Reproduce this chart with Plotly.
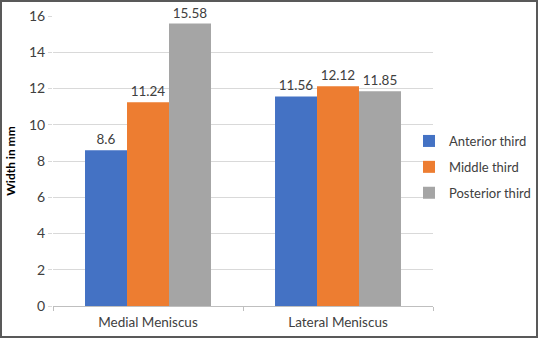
import plotly.graph_objects as go

categories = ["Medial Meniscus", "Lateral Meniscus"]
series_names = ["Anterior third", "Middle third", "Posterior third"]
anterior = [8.6, 11.56]
middle = [11.24, 12.12]
posterior = [15.58, 11.85]
colors = ["#4472C4", "#ED7D31", "#A5A5A5"]
y_ticks = [0, 2, 4, 6, 8, 10, 12, 14, 16]

W, H = 538, 338
ml, mr, mt, mb = 53, 105, 16, 32
pw, ph = W - ml - mr, H - mt - mb

fig = go.Figure()
for name, vals, c in zip(series_names, [anterior, middle, posterior], colors):
    fig.add_trace(go.Bar(
        name=name, x=categories, y=vals, marker_color=c, marker_line_width=0,
        text=[str(v) for v in vals], textposition="outside", cliponaxis=False,
        textfont=dict(family="Lato", size=13.5, color="#404040"),
        legendgroup=name,
    ))

fig.update_layout(
    width=W, height=H,
    margin=dict(l=ml, r=mr, t=mt, b=mb, autoexpand=False),
    paper_bgcolor="white", plot_bgcolor="white",
    barmode="group", bargap=0.337, bargroupgap=0,
    font=dict(family="Lato", size=13, color="#404040"),
    showlegend=True,
    legend=dict(xref="container", x=409 / W, xanchor="left",
                yref="container", y=1 - 167 / H, yanchor="middle",
                font=dict(size=13, color="#404040"), traceorder="grouped",
                tracegroupgap=6, itemwidth=30, bgcolor="rgba(0,0,0,0)"),
    xaxis=dict(showline=True, linecolor="#BFBFBF", linewidth=1, automargin=False,
               ticks="outside", tickson="boundaries", ticklen=4, tickcolor="#BFBFBF",
               ticklabelstandoff=4,
               showgrid=False, tickfont=dict(size=13.5, color="#404040")),
    yaxis=dict(range=[0, 16], tickvals=y_ticks, showgrid=True, gridcolor="#D9D9D9",
               gridwidth=1, zeroline=False, showline=False, ticks="outside",
               ticklen=4, tickcolor="#D9D9D9", automargin=False,
               tickfont=dict(size=14, color="#404040"),
               title=dict(text="<b>Width in mm</b>", font=dict(size=12, color="#000000"),
                          standoff=10)),
)

fig.add_shape(type="rect", xref="paper", yref="paper",
              x0=-(ml - 1) / pw, x1=1 + (mr - 1) / pw,
              y0=-(mb - 1) / ph, y1=1 + (mt - 1) / ph,
              line=dict(color="#595959", width=2), layer="above")

fig.write_html("out.html", config={"displayModeBar": False},
               post_script="document.body.style.margin='0';document.body.style.overflow='hidden';")
